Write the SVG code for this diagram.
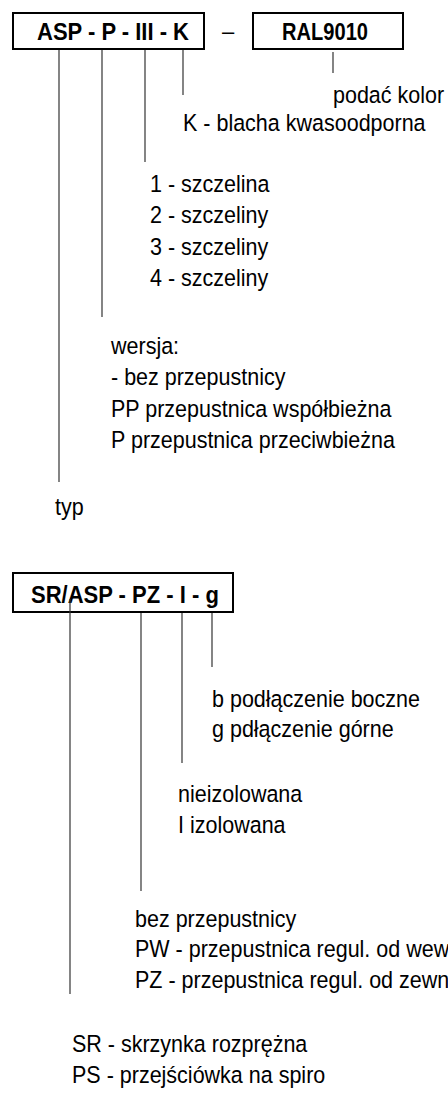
<svg xmlns="http://www.w3.org/2000/svg" width="448" height="1094" viewBox="0 0 448 1094">
<style>
.box{fill:#fff;stroke:#000;stroke-width:2}
.b{font-family:"Liberation Sans",Arial,sans-serif;font-weight:bold;font-size:24px;fill:#000}
.t{font-family:"Liberation Sans",Arial,sans-serif;font-size:23.5px;fill:#000}
.d{font-family:"Liberation Sans",Arial,sans-serif;font-size:22px;fill:#000}
.c line{stroke:#333;stroke-width:1.2}
</style>
<rect width="448" height="1094" fill="#fff"/>
<g id="code1">
<rect class="box" x="13" y="13" width="191" height="36"/>
<g transform="translate(37,0) scale(0.917,1)"><text class="b" x="0" y="40">ASP - P - III - K</text></g>
</g>
<text class="d" x="228" y="39" text-anchor="middle">–</text>
<g id="color">
<rect class="box" x="253" y="13" width="150" height="36"/>
<text class="b" x="282" y="40" textLength="86" lengthAdjust="spacingAndGlyphs">RAL9010</text>
</g>
<g id="connectors1" class="c">
<line x1="333" y1="52" x2="333" y2="73"/>
<line x1="183" y1="50" x2="183" y2="95"/>
<line x1="145" y1="50" x2="145" y2="162"/>
<line x1="102" y1="50" x2="102" y2="317"/>
<line x1="59" y1="50" x2="59" y2="482"/>
</g>
<g id="label-kolor" transform="translate(333,0) scale(0.915,1)"><text class="t" x="0" y="103">podać kolor</text></g>
<g id="label-k" transform="translate(183,0) scale(0.915,1)"><text class="t" x="0" y="131">K - blacha kwasoodporna</text></g>
<g id="label-szczeliny" transform="translate(150,0) scale(0.915,1)">
<text class="t" x="0" y="192">1 - szczelina</text>
<text class="t" x="0" y="223.5">2 - szczeliny</text>
<text class="t" x="0" y="255">3 - szczeliny</text>
<text class="t" x="0" y="286.5">4 - szczeliny</text>
</g>
<g id="label-wersja" transform="translate(111,0) scale(0.915,1)">
<text class="t" x="0" y="354">wersja:</text>
<text class="t" x="0" y="385.5">- bez przepustnicy</text>
<text class="t" x="0" y="417">PP przepustnica współbieżna</text>
<text class="t" x="0" y="448.5">P przepustnica przeciwbieżna</text>
</g>
<g id="label-typ" transform="translate(55,0) scale(0.915,1)"><text class="t" x="0" y="515">typ</text></g>

<g id="code2">
<rect class="box" x="13" y="573" width="220" height="39"/>
<g transform="translate(31,0) scale(0.917,1)"><text class="b" x="0" y="603">SR/ASP - PZ - I - g</text></g>
</g>
<g id="connectors2" class="c">
<line x1="70" y1="599" x2="70" y2="994"/>
<line x1="141" y1="613" x2="141" y2="891"/>
<line x1="182" y1="613" x2="182" y2="763"/>
<line x1="212" y1="613" x2="212" y2="667"/>
</g>
<g id="label-podlaczenie" transform="translate(212,0) scale(0.915,1)">
<text class="t" x="0" y="707">b podłączenie boczne</text>
<text class="t" x="0" y="737">g pdłączenie górne</text>
</g>
<g id="label-izolacja" transform="translate(178,0) scale(0.915,1)">
<text class="t" x="0" y="802">nieizolowana</text>
<text class="t" x="0" y="833">I izolowana</text>
</g>
<g id="label-przepustnica" transform="translate(135,0) scale(0.915,1)">
<text class="t" x="0" y="927">bez przepustnicy</text>
<text class="t" x="0" y="957">PW - przepustnica regul. od wewnątrz</text>
<text class="t" x="0" y="988">PZ - przepustnica regul. od zewnątrz</text>
</g>
<g id="label-typ2" transform="translate(72,0) scale(0.915,1)">
<text class="t" x="0" y="1052">SR - skrzynka rozprężna</text>
<text class="t" x="0" y="1083">PS - przejściówka na spiro</text>
</g>
</svg>
